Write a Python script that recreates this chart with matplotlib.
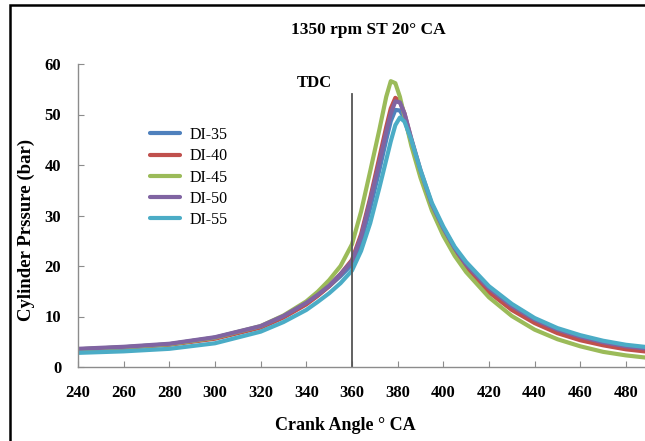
import numpy as np
import matplotlib
matplotlib.use("Agg")
import matplotlib.pyplot as plt
from matplotlib.patches import Rectangle

# crank angle points (deg CA) shared by all series
angle = [240, 260, 280, 300, 320, 330, 340, 345, 350, 355, 360, 364, 368, 372,
         375, 377, 379, 381, 383, 386, 390, 395, 400, 405, 410, 420, 430, 440,
         450, 460, 470, 480, 490, 500]

# cylinder pressure (bar)
di35 = [3.5, 3.9, 4.5, 5.8, 8.0, 10.0, 12.6, 14.2, 16.0, 18.0, 20.3, 24.8, 31.5, 39.0,
        45.0, 48.7, 50.9, 50.8, 49.2, 44.5, 38.5, 32.0, 27.5, 23.5, 20.5, 15.8, 12.3, 9.5,
        7.5, 6.1, 5.0, 4.2, 3.7, 3.4]
di40 = [3.4, 3.8, 4.4, 5.6, 7.8, 9.8, 12.4, 14.1, 16.0, 18.4, 21.2, 26.3, 33.5, 41.5,
        47.5, 51.2, 53.3, 52.6, 50.2, 45.0, 38.5, 31.5, 26.5, 22.6, 19.5, 14.8, 11.3, 8.7,
        6.7, 5.3, 4.3, 3.5, 3.0, 2.7]
di45 = [3.5, 3.9, 4.5, 5.8, 8.1, 10.2, 13.0, 14.9, 17.2, 20.0, 24.3, 30.8, 38.8, 47.0,
        53.5, 56.6, 56.2, 53.5, 49.6, 43.8, 37.5, 31.0, 26.0, 22.0, 18.8, 13.8, 10.1, 7.4,
        5.5, 4.1, 3.0, 2.3, 1.8, 1.5]
di50 = [3.6, 4.0, 4.6, 5.9, 8.1, 10.1, 12.7, 14.3, 16.1, 18.4, 20.9, 25.8, 33.0, 40.5,
        46.5, 50.2, 52.6, 52.4, 50.2, 45.2, 39.0, 32.2, 27.5, 23.5, 20.3, 15.6, 12.1, 9.4,
        7.4, 6.0, 4.9, 4.1, 3.6, 3.3]
di55 = [2.8, 3.1, 3.6, 4.7, 7.0, 8.9, 11.3, 12.9, 14.6, 16.6, 19.1, 23.0, 28.5, 35.5,
        41.0, 44.7, 47.9, 49.4, 48.6, 45.0, 39.0, 32.5, 27.8, 23.8, 20.8, 16.0, 12.5, 9.7,
        7.7, 6.3, 5.2, 4.4, 3.9, 3.6]

labels = ['DI-35', 'DI-40', 'DI-45', 'DI-50', 'DI-55']
colors = ['#4F81BD', '#C0504D', '#9BBB59', '#8064A2', '#4BACC6']

tdc_angle = 360
tdc_top = 54

plt.rcParams['font.family'] = ['Liberation Serif', 'DejaVu Serif']

fig = plt.figure(figsize=(6.45, 4.41), dpi=100)
ax = fig.add_axes([78/645, 1 - 367/441, 593.6/645, (367 - 64)/441])

for series, lab, col in zip([di35, di40, di45, di50, di55], labels, colors):
    ax.plot(angle, series, color=col, lw=3.0, label=lab,
            solid_capstyle='round', solid_joinstyle='round')

ax.plot([tdc_angle, tdc_angle], [0, tdc_top], color='#555555', lw=1.3)
ax.text(343.5, 56.2, 'TDC', ha='center', va='center', fontsize=12, fontweight='bold')

ax.set_xlim(240, 500)
ax.set_ylim(0, 60)
ax.set_xticks(np.arange(240, 500, 20))
ax.set_yticks(np.arange(0, 61, 10))

for s in ['top', 'right']:
    ax.spines[s].set_visible(False)
for s in ['left', 'bottom']:
    ax.spines[s].set_color('#8c8c8c')
    ax.spines[s].set_linewidth(1.0)

ax.tick_params(axis='x', direction='in', length=4, color='#8c8c8c', pad=13, labelsize=12)
ax.tick_params(axis='y', direction='in', length=4, color='#8c8c8c', pad=12, labelsize=12)
for t in ax.get_xticklabels() + ax.get_yticklabels():
    t.set_fontweight('bold')

fig.text(368/645, 1 - 30/441, '1350 rpm ST 20° CA', ha='center', va='center',
         fontsize=12.5, fontweight='bold')
fig.text(345/645, 1 - 425/441, 'Crank Angle ° CA', ha='center', va='center',
         fontsize=13, fontweight='bold')
fig.text(26/645, 1 - 230/441, 'Cylinder Prssure (bar)', ha='center', va='center',
         rotation=90, fontsize=13.5, fontweight='bold')

ax.legend(loc='upper left', bbox_to_anchor=(150/645, 1 - 127/441),
          bbox_transform=fig.transFigure, frameon=False, fontsize=11.5,
          handlelength=1.9, handletextpad=0.55, labelspacing=0.33,
          borderpad=0, borderaxespad=0)

# black frame around the chart (cut off at right and bottom)
fig.add_artist(Rectangle((10/645, -0.2), 1.3, 1.2 - 5/441,
                         transform=fig.transFigure, fill=False,
                         edgecolor='black', lw=1.8))

fig.savefig('out.png', dpi=100)
